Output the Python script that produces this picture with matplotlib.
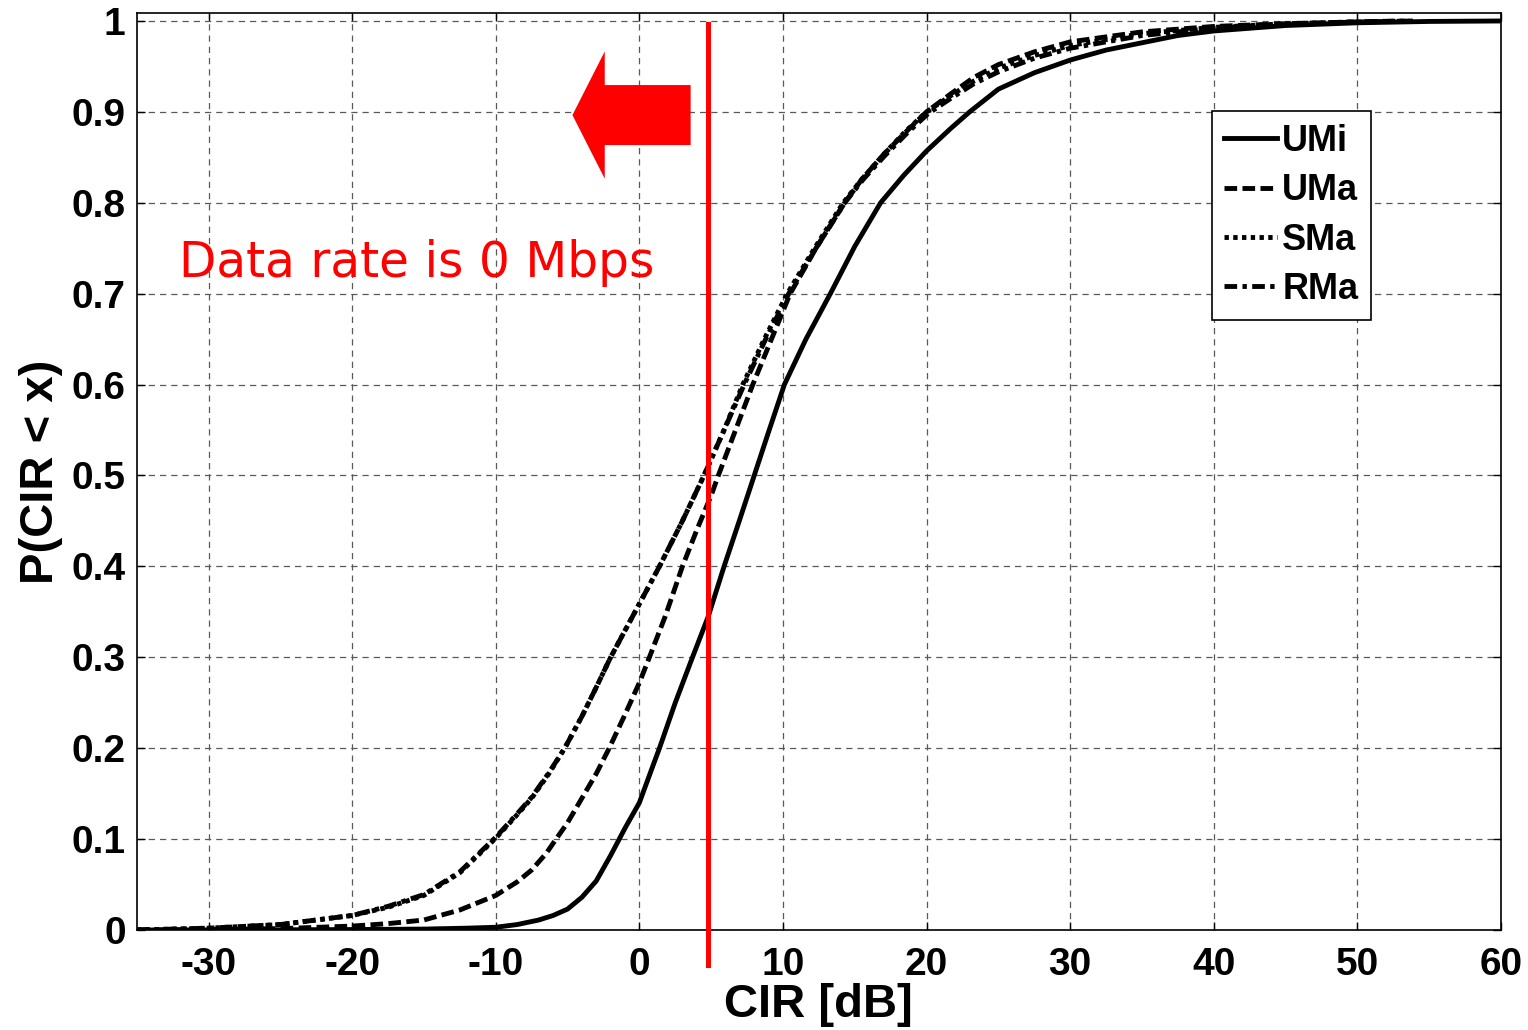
import matplotlib
matplotlib.use('Agg')
import matplotlib.pyplot as plt

plt.rcParams['font.family'] = ['Liberation Sans', 'DejaVu Sans']
plt.rcParams['font.weight'] = 'bold'
plt.rcParams['axes.unicode_minus'] = False

##############################
# CDF curves #
##############################
umi_x = [-35, -25, -20, -15, -12, -10, -8.5, -7, -6, -5, -4, -3, -2, -1, 0, 1, 1.4, 2.5, 3.7, 4.8, 5.9,
         7, 8, 9, 10.1, 11.6, 13.3, 15, 16.8, 18.4, 20, 21.7, 23, 25, 27.5, 30, 32.5, 35, 37.5, 40, 45, 50, 55, 60]
umi_y = [0, 0.0002, 0.0005, 0.001, 0.002, 0.003, 0.006, 0.011, 0.016, 0.023, 0.036, 0.054, 0.082, 0.112, 0.14, 0.183, 0.2, 0.25, 0.3, 0.345, 0.4,
         0.452, 0.5, 0.548, 0.6, 0.65, 0.7, 0.752, 0.8, 0.83, 0.857, 0.882, 0.9, 0.925, 0.943, 0.957, 0.968, 0.976, 0.984, 0.989, 0.995, 0.998, 0.9995, 1.0]

uma_x = [-35, -30, -25, -20, -17.5, -15, -12.5, -10, -8.5, -7.5, -6.5, -5.8, -5, -4, -3, -2.1, -1, 0, 0.7, 1.8, 3.0,
         4.0, 5.0, 5.5, 6.7, 7.9, 9.2, 10.5, 12.3, 14.3, 15.5, 17, 18.5, 20, 21.7, 23.3, 25, 27.5, 30, 35, 40, 45, 50, 53]
uma_y = [0, 0.0005, 0.0015, 0.0043, 0.007, 0.011, 0.022, 0.038, 0.053, 0.066, 0.084, 0.1, 0.118, 0.145, 0.172, 0.2, 0.237, 0.272, 0.3, 0.345, 0.4,
         0.44, 0.478, 0.5, 0.55, 0.6, 0.65, 0.7, 0.75, 0.8, 0.826, 0.853, 0.877, 0.9, 0.92, 0.938, 0.952, 0.966, 0.977, 0.988, 0.994, 0.997, 0.999, 1.0]

sma_x = [-35, -30, -25, -20, -17.5, -15, -12.5, -10, -8.5, -7.5, -6.3, -5.2, -4, -3, -2, -0.3, 1.4, 3, 4.5, 5.9, 7.2,
         8.7, 10.3, 12.2, 14.2, 15.5, 17, 18.5, 20, 21.7, 23.3, 25, 27.5, 30, 35, 40, 45, 50, 54]
sma_y = [0, 0.002, 0.006, 0.016, 0.025, 0.038, 0.063, 0.101, 0.127, 0.145, 0.172, 0.2, 0.235, 0.267, 0.3, 0.35, 0.4, 0.45, 0.5, 0.55, 0.6,
         0.65, 0.7, 0.75, 0.8, 0.826, 0.853, 0.878, 0.9, 0.918, 0.934, 0.948, 0.962, 0.973, 0.986, 0.993, 0.997, 0.999, 1.0]

rma_x = [-35, -30, -25, -20, -17.5, -15, -12.5, -10, -8.5, -7.5, -6.3, -5.2, -4, -3, -2, -0.3, 1.4, 3, 4.5, 5.9, 7.3,
         8.8, 10.4, 12.3, 14.3, 15.6, 17.1, 18.6, 20.1, 21.7, 23.3, 25, 27.5, 30, 35, 40, 45, 50, 54]
rma_y = [0, 0.002, 0.006, 0.016, 0.026, 0.039, 0.064, 0.102, 0.128, 0.146, 0.173, 0.2, 0.235, 0.267, 0.3, 0.35, 0.4, 0.45, 0.5, 0.55, 0.6,
         0.65, 0.7, 0.75, 0.8, 0.826, 0.852, 0.876, 0.898, 0.915, 0.931, 0.944, 0.959, 0.970, 0.984, 0.992, 0.996, 0.999, 1.0]

labels = ['UMi', 'UMa', 'SMa', 'RMa']
threshold_db = 4.8
note = 'Data rate is 0 Mbps'

xticks = list(range(-30, 61, 10))
yticks = [i / 10 for i in range(11)]
yticklabels = ['0', '0.1', '0.2', '0.3', '0.4', '0.5', '0.6', '0.7', '0.8', '0.9', '1']

fig = plt.figure(figsize=(15.28, 10.30), dpi=100)
ax = fig.add_axes([0.0895, 0.0971, 0.8928, 0.8903])

lw = 3.5
ax.plot(umi_x, umi_y, color='black', lw=lw, linestyle='-', label=labels[0])
ax.plot(uma_x, uma_y, color='black', lw=lw, linestyle=(0, (2.6, 1.1)), label=labels[1])
ax.plot(sma_x, sma_y, color='black', lw=lw, linestyle=(0, (0.9, 0.9)), label=labels[2])
ax.plot(rma_x, rma_y, color='black', lw=lw, linestyle=(0, (2.6, 1.1, 0.9, 1.1)), label=labels[3])

##########################
# red threshold + arrow  #
##########################
ax.plot([threshold_db, threshold_db], [-0.0385, 0.9967], color='red', lw=3.6,
        clip_on=False, zorder=5)
ax.arrow(3.57, 0.8965, -8.23, 0, width=0.066, head_width=0.14, head_length=2.25,
         length_includes_head=True, color='red', lw=0, zorder=5)
ax.text(-15.5, 0.734, note, color='red', fontsize=35, fontweight='normal',
        family='DejaVu Sans', ha='center', va='center')

ax.set_xlim(-35, 60)
ax.set_ylim(0, 1.0088)
ax.set_xticks(xticks)
ax.set_yticks(yticks)
ax.set_yticklabels(yticklabels)
ax.tick_params(labelsize=28, direction='in', length=6, width=1,
               top=True, right=True)
ax.tick_params(axis='x', pad=12)
ax.tick_params(axis='y', pad=8)
ax.grid(True, color='0.35', lw=0.9, linestyle=(0, (5, 4)))
for s in ax.spines.values():
    s.set_linewidth(1.2)

ax.set_xlabel('CIR [dB]', fontsize=34, fontweight='bold', labelpad=0)
ax.set_ylabel('P(CIR < x)', fontsize=34, fontweight='bold', labelpad=6)

leg = ax.legend(loc='upper left', bbox_to_anchor=(0.788, 0.893), fontsize=26,
                frameon=True, fancybox=False, handlelength=1.45, handletextpad=0.15,
                labelspacing=0.4, borderpad=0.35, borderaxespad=0)
leg.get_frame().set_edgecolor('black')
leg.get_frame().set_linewidth(1.2)
leg.get_frame().set_alpha(1)

plt.savefig('out.png', dpi=100)
